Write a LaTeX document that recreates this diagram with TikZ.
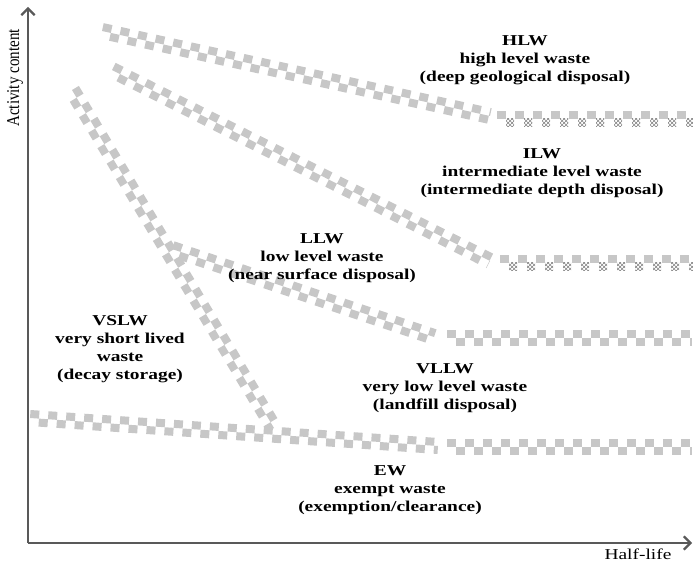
\documentclass[tikz,border=0pt]{standalone}
\usepackage{fontspec}
\usepackage{graphicx}
\setmainfont{Liberation Serif}
\usetikzlibrary{arrows.meta,calc,patterns}

\tikzset{
  axis/.style={line width=1.6pt, draw=black!65, -{Straight Barb[length=5pt,width=10pt]}},
  rowa/.style={line width=6pt, draw=black!22, dash pattern=on 6.75pt off 6.75pt},
  rowb/.style={rowa, dash phase=6.75pt},
  hatch/.style={fill=black!12, pattern=crosshatch, pattern color=black!50},
  lbl/.style={font=\bfseries\fontsize{11.3}{13.5}\selectfont, inner sep=0pt},
  axlbl/.style={font=\fontsize{11.3}{13}\selectfont, inner sep=0pt},
}
% checkered band between two points
\newcommand{\band}[2]{%
  \draw[rowa] ($(#1)!3pt!90:(#2)$) -- ($(#2)!3pt!-90:(#1)$);
  \draw[rowb] ($(#1)!3pt!-90:(#2)$) -- ($(#2)!3pt!90:(#1)$);
}
% text drawn a little wider than high, as in the figure
\newcommand{\wide}[1]{\scalebox{1.29}[1]{\begin{tabular}{@{}c@{}}#1\end{tabular}}}

\begin{document}
\begin{tikzpicture}[x=0.75pt, y=-0.75pt]
		\useasboundingbox (0,0) rectangle (693,563);

		%axes
		\coordinate (o) at (28,543);
		\coordinate (ytop) at (28,7);
		\coordinate (xend) at (692,543);
		\draw[axis] (o) -- (ytop);
		\draw[axis] (o) -- (xend);
		\node[axlbl] (ylab) at (15,78) {\rotatebox{90}{\scalebox{1}[1.2]{Activity content}}};
		\node[axlbl] (xlab) at (638,554) {\scalebox{1.29}[1]{Half-life}};

		%HLW
		\coordinate (hlwA) at (102,31);
		\coordinate (hlwB) at (490,116);
		\coordinate (hlwC) at (497,119);
		\coordinate (hlwD) at (692,119);
		\band{hlwA}{hlwB}
		\draw[rowa] ($(hlwC)+(0,-4)$) -- ($(hlwD)+(0,-4)$);
		\foreach \i in {0,...,10}
			\fill[hatch] ($(hlwC)+(\i*18+9,0)$) rectangle +(8,8);

		%ILW
		\coordinate (ilwA) at (112,70);
		\coordinate (ilwB) at (490,261);
		\coordinate (ilwC) at (500,263);
		\coordinate (ilwD) at (692,263);
		\band{ilwA}{ilwB}
		\draw[rowa] ($(ilwC)+(0,-4)$) -- ($(ilwD)+(0,-4)$);
		\foreach \i in {0,...,10}
			\fill[hatch] ($(ilwC)+(\i*18+9,0)$) rectangle +(8,8);

		%VSLW
		\coordinate (vsA) at (72,90);
		\coordinate (vsB) at (274,428);
		\band{vsA}{vsB}

		%LLW
		\coordinate (llwA) at (172,249);
		\coordinate (llwB) at (434,337);
		\coordinate (llwC) at (447,338);
		\coordinate (llwD) at (692,338);
		\band{llwA}{llwB}
		\band{llwC}{llwD}

		%EW
		\coordinate (ewA) at (30,418);
		\coordinate (ewB) at (438,446);
		\coordinate (ewC) at (447,447);
		\coordinate (ewD) at (692,447);
		\band{ewA}{ewB}
		\band{ewC}{ewD}

		%labels
		\node[lbl] (hlw) at (525,60) {\wide{HLW\\high level waste\\(deep geological disposal)}};
		\node[lbl] (ilw) at (542,173) {\wide{ILW\\intermediate level waste\\(intermediate depth disposal)}};
		\node[lbl] (llw) at (322,258) {\wide{LLW\\low level waste\\(near surface disposal)}};
		\node[lbl] (vslw) at (120,349) {\wide{VSLW\\very short lived\\waste\\(decay storage)}};
		\node[lbl] (vllw) at (445,388) {\wide{VLLW\\very low level waste\\(landfill disposal)}};
		\node[lbl] (ew) at (390,490) {\wide{EW\\exempt waste\\(exemption/clearance)}};
\end{tikzpicture}
\end{document}
